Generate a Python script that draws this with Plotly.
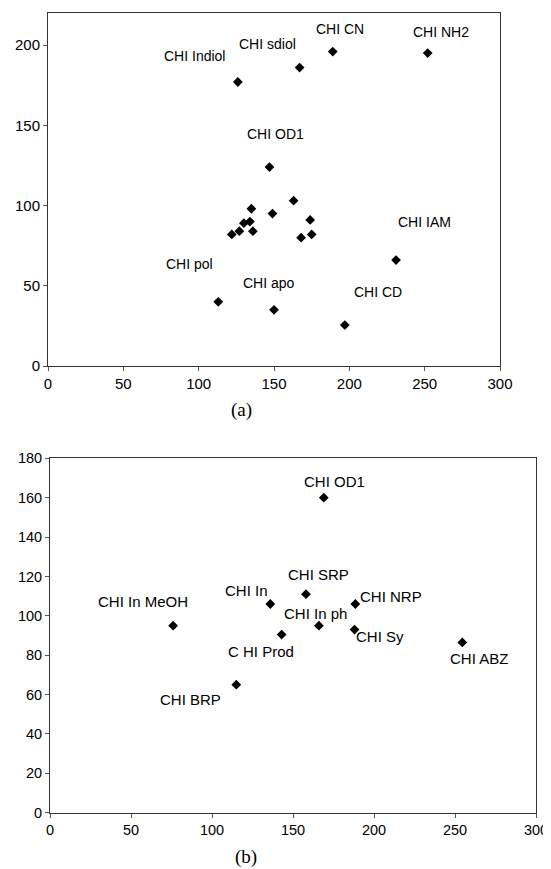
import plotly.graph_objects as go

# ---------------- data : panel (a) ----------------
a_x = [126, 167, 189, 252, 147, 163, 135, 149, 134, 130, 127, 122, 136, 174, 175, 168, 113, 150, 197, 231]
a_y = [177, 186, 196, 195, 124, 103, 98, 95, 90, 89, 84, 82, 84, 91, 82, 80, 40, 35, 25.5, 66]
a_labels = ["CHI Indiol", "CHI sdiol", "CHI CN", "CHI NH2", "CHI OD1",
            "CHI IAM", "CHI pol", "CHI apo", "CHI CD"]
a_label_x = [97, 146, 194, 261, 151, 250, 94, 147, 219]
a_label_y = [193, 200.5, 210, 208, 144.5, 90, 63.5, 51.5, 46]

# ---------------- data : panel (b) ----------------
b_x = [169, 158, 136, 188.5, 166, 188, 254.5, 143, 76, 115]
b_y = [160, 111, 106, 106, 95, 93, 86.5, 90.5, 95, 65]
b_labels = ["CHI OD1", "CHI SRP", "CHI In", "CHI NRP", "CHI In ph",
            "CHI Sy", "CHI ABZ", "C HI Prod", "CHI In MeOH", "CHI BRP"]
b_label_x = [175.5, 165.5, 121.5, 210.5, 164, 204, 265, 130.5, 57.5, 87]
b_label_y = [168, 121, 113, 110, 101, 89.7, 78.2, 81.8, 107.5, 57.3]

x_ticks = [0, 50, 100, 150, 200, 250, 300]
a_y_ticks = [0, 50, 100, 150, 200]
b_y_ticks = [0, 20, 40, 60, 80, 100, 120, 140, 160, 180]

W, H = 551, 869
OFF = 8  # page body margin
FONT = "Liberation Sans, Arial, sans-serif"
SERIF = "Liberation Serif, Times New Roman, serif"


def fx(px):
    return (px - OFF) / W


def fy(py):
    return 1 - (py - OFF) / H


fig = go.Figure()
fig.add_trace(go.Scatter(x=a_x, y=a_y, mode="markers", xaxis="x", yaxis="y",
                         marker=dict(symbol="diamond", size=7.5, color="black"),
                         showlegend=False, hoverinfo="skip"))
fig.add_trace(go.Scatter(x=b_x, y=b_y, mode="markers", xaxis="x2", yaxis="y2",
                         marker=dict(symbol="diamond", size=7.5, color="black"),
                         showlegend=False, hoverinfo="skip"))

annotations = []
for t, lx, ly in zip(a_labels, a_label_x, a_label_y):
    annotations.append(dict(x=lx, y=ly, xref="x", yref="y", text=t, showarrow=False,
                            xanchor="center", yanchor="middle",
                            font=dict(family=FONT, size=14, color="black")))
for t, lx, ly in zip(b_labels, b_label_x, b_label_y):
    annotations.append(dict(x=lx, y=ly, xref="x2", yref="y2", text=t, showarrow=False,
                            xanchor="center", yanchor="middle",
                            font=dict(family=FONT, size=15, color="black")))
annotations.append(dict(x=fx(241), y=fy(410), xref="paper", yref="paper", text="(a)",
                        showarrow=False, xanchor="center", yanchor="middle",
                        font=dict(family=SERIF, size=19, color="black")))
annotations.append(dict(x=fx(246), y=fy(857), xref="paper", yref="paper", text="(b)",
                        showarrow=False, xanchor="center", yanchor="middle",
                        font=dict(family=SERIF, size=19, color="black")))


def ax(size, **kw):
    d = dict(showgrid=False, zeroline=False, showline=True, linecolor="#333333",
             linewidth=1, mirror=True, ticks="outside", ticklen=4, tickcolor="#555555",
             automargin=False, tickfont=dict(family=FONT, size=size, color="black"))
    d.update(kw)
    return d


fig.update_layout(
    width=W, height=H,
    margin=dict(l=0, r=0, t=0, b=0, autoexpand=False),
    paper_bgcolor="white", plot_bgcolor="white",
    xaxis=ax(15, domain=[fx(48), fx(500)], range=[0, 300], tickvals=x_ticks, anchor="y"),
    yaxis=ax(15, domain=[fy(366), fy(13)], range=[0, 220], tickvals=a_y_ticks, anchor="x"),
    xaxis2=ax(14.5, domain=[fx(50), fx(536)], range=[0, 300], tickvals=x_ticks, anchor="y2"),
    yaxis2=ax(14.5, domain=[fy(812.7), fy(458.3)], range=[0, 180], tickvals=b_y_ticks, anchor="x2"),
    annotations=annotations,
)

fig.write_html("out.html")
